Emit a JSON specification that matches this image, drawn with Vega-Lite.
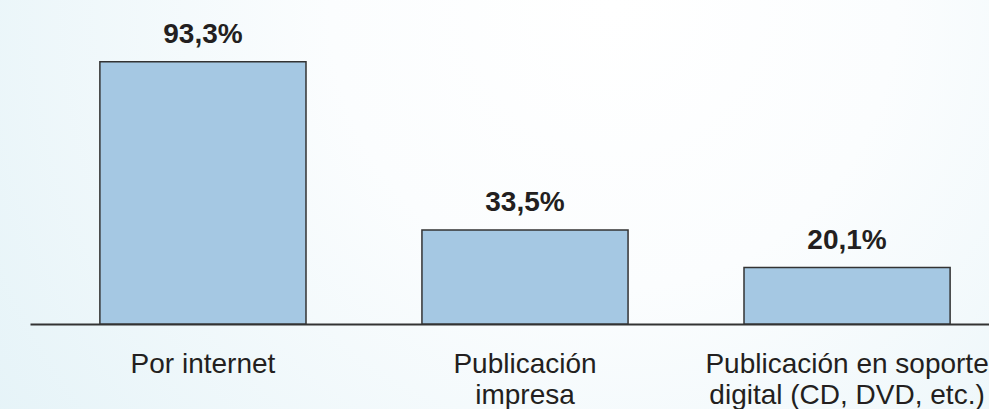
{
  "$schema": "https://vega.github.io/schema/vega-lite/v6.json",
  "width": 989,
  "height": 409,
  "autosize": {"type": "none"},
  "padding": 0,
  "background": "#e3f2f7",
  "config": {
    "view": {
      "stroke": null,
      "fill": {
        "gradient": "radial",
        "x1": 0.62, "y1": 0.3, "r1": 0,
        "x2": 0.62, "y2": 0.3, "r2": 0.95,
        "stops": [
          {"offset": 0, "color": "#ffffff"},
          {"offset": 0.3, "color": "#fbfdfe"},
          {"offset": 1, "color": "#dceff5"}
        ]
      }
    },
    "locale": {
      "number": {
        "decimal": ",",
        "thousands": ".",
        "grouping": [3],
        "currency": ["", " €"]
      }
    }
  },
  "data": {
    "values": [
      {"cat": "Por internet", "v": 0.933},
      {"cat": "Publicación|impresa", "v": 0.335},
      {"cat": "Publicación en soporte|digital (CD, DVD, etc.)", "v": 0.201}
    ]
  },
  "encoding": {
    "x": {
      "field": "cat",
      "type": "nominal",
      "sort": null,
      "scale": {"range": [30, 1020], "paddingInner": 0.36, "paddingOuter": 0.217},
      "axis": {
        "orient": "bottom",
        "offset": -85,
        "title": null,
        "ticks": false,
        "tickSize": 0,
        "labelPadding": 26,
        "labelAngle": 0,
        "labelFont": "Liberation Sans",
        "labelFontSize": 28,
        "labelColor": "#231f20",
        "labelLineHeight": 31,
        "labelLimit": 0,
        "labelOverlap": false,
        "labelBound": false,
        "labelExpr": "split(datum.label, '|')",
        "domainColor": "#333333",
        "domainWidth": 2
      }
    },
    "y": {
      "field": "v",
      "type": "quantitative",
      "scale": {"domain": [-0.302, 1.153], "nice": false, "zero": false},
      "axis": null
    }
  },
  "layer": [
    {
      "mark": {"type": "bar", "fill": "#a5c8e3", "stroke": "#333333", "strokeWidth": 1.5}
    },
    {
      "mark": {
        "type": "text",
        "font": "Liberation Sans",
        "fontWeight": "bold",
        "fontSize": 28,
        "baseline": "alphabetic",
        "dy": -19,
        "color": "#231f20"
      },
      "encoding": {
        "text": {"field": "v", "type": "quantitative", "format": ".1%"}
      }
    }
  ]
}
